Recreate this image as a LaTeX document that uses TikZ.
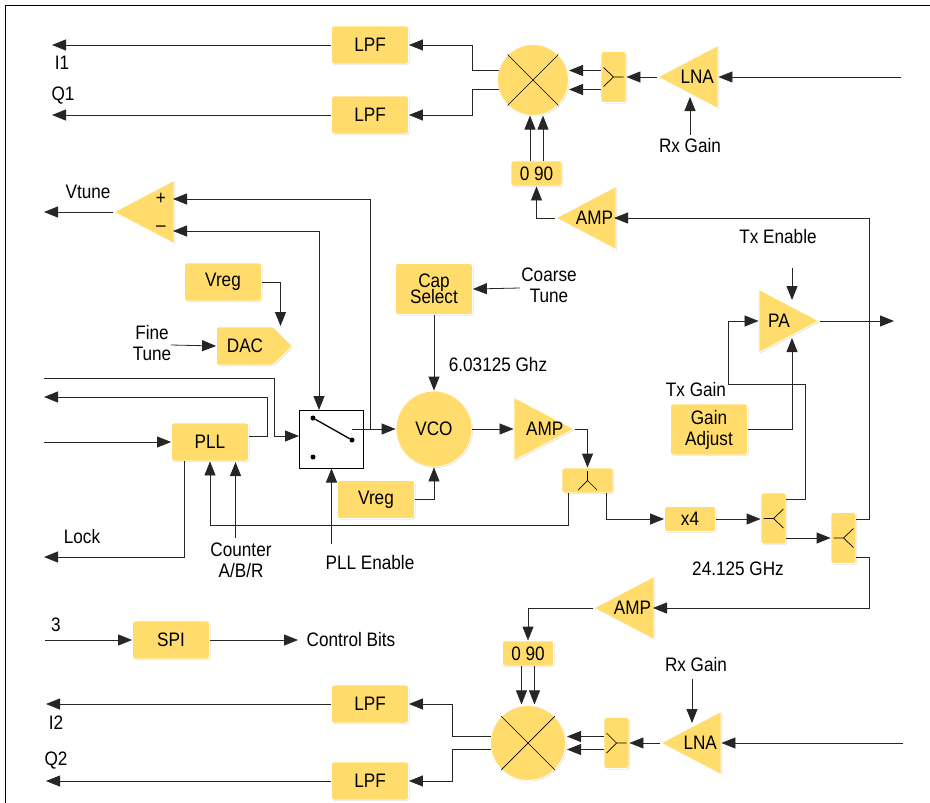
\documentclass[tikz,border=0pt]{standalone}
\usepackage{fontspec}
\setmainfont[FakeStretch=0.88]{Liberation Sans}
\usetikzlibrary{calc, arrows.meta, shapes.geometric, shapes.symbols, shadows}
\definecolor{blockyellow}{HTML}{FFDC6B}
\tikzset{
    block/.style={fill=blockyellow, draw=white, line width=0.8pt, drop shadow={opacity=0.22, shadow xshift=1pt, shadow yshift=-1pt}},
    box/.style={block, rectangle, rounded corners=2.5pt, minimum width=77pt, minimum height=38pt, inner sep=0pt, align=center},
    smallbox/.style={box, minimum width=51pt, minimum height=25pt},
    forkv/.style={box, minimum width=25pt, minimum height=51pt},
    forkh/.style={box, minimum width=51pt, minimum height=25pt},
    tribox/.style={block, isosceles triangle, isosceles triangle stretches, minimum width=63pt, minimum height=60pt, inner sep=1pt},
    ampleft/.style={tribox, shape border rotate=180, anchor=apex, xshift=-2pt},
    ampright/.style={tribox, shape border rotate=0, anchor=apex, xshift=2pt},
    disc/.style={block, circle, inner sep=0pt, minimum size=#1},
    dac/.style={block, signal, signal to=east, signal pointer angle=90, minimum width=76pt, minimum height=38pt, inner sep=0pt, rounded corners=2pt},
    wire/.style={draw=black!85, line width=0.8pt, -{Triangle[length=14pt, width=11pt]}},
    bothwire/.style={wire, {Triangle[length=14pt, width=11pt]}-{Triangle[length=14pt, width=11pt]}},
    glyph/.style={draw=black, line width=0.7pt},
    lab/.style={inner sep=0pt, align=center},
}
\begin{document}
\begin{tikzpicture}[x=1pt, y=-1pt, font=\fontsize{19.5}{21}\selectfont]
    \useasboundingbox (0,0) rectangle (930,803);
    \draw[black, line width=1pt] (5,803) -- (5,5) -- (930,5);
    \foreach \px/\py/\name in {52/45/ioa, 52/115/qoa, 901/77/rfa, 44/212/tuneout, 173/199/cmpplus, 173/231/cmpminus,
            370/429/tap, 319/410/swin, 44/378/refin, 44/397/refout, 44/442/pllin, 44/557/lockout,
            894/321/paout, 45/640/spiin, 298/640/spiout, 46/704/iob, 46/781/qob, 903/743/rfb}
        \coordinate (\name) at (\px,\py);

    \node[box] (lpfa) at (370,45) {LPF};
    \node[box] (lpfb) at (370,115) {LPF};
    \node[box] (lpfc) at (370,704) {LPF};
    \node[box] (lpfd) at (370,781) {LPF};
    \node[disc=71pt] (mixa) at (533,80) {};
    \node[disc=75pt] (mixb) at (528,743) {};
    \node[forkv] (forka) at (613.5,77) {};
    \node[forkv] (forkc) at (773.5,518.5) {};
    \node[forkv] (forkd) at (843.5,538) {};
    \node[forkv] (forke) at (616.5,743) {};
    \node[forkh] (forkb) at (587.5,480.5) {};
    \node[ampleft] (lnaa) at (659,77) {LNA};
    \node[ampleft] (lnab) at (662,743) {LNA};
    \node[ampleft] (ampa) at (557,218) {AMP};
    \node[ampleft] (ampc) at (595,608) {AMP};
    \node[ampright] (ampb) at (573,429) {\makebox[30pt][l]{\hspace*{7pt}AMP}};
    \node[ampright] (pa) at (818,321) {\hspace*{2pt}PA};
    \node[ampleft] (cmp) at (115,212) {};
    \node[smallbox] (iqa) at (536.5,173.5) {0 90};
    \node[smallbox] (iqb) at (528,653.5) {0 90};
    \node[smallbox] (xfour) at (690,519) {x4};
    \node[box] (vrega) at (223,282) {Vreg};
    \node[box] (vregb) at (376,499.5) {Vreg};
    \node[box] (pll) at (210,442) {PLL};
    \node[box] (spi) at (171,640) {SPI};
    \node[box, minimum height=51pt] (cap) at (434,289) {Cap\\[-5pt]Select};
    \node[box, minimum height=51pt] (gain) at (709,429.5) {Gain\\Adjust};
    \node[disc=76pt] (vco) at (434,429) {VCO};
    \node[dac] (dacv) at (245,346) {DAC};
    \node[draw=black, fill=white, line width=1pt, minimum width=64pt, minimum height=58pt, inner sep=0pt] (sw) at (331.5,439) {};
    \node[circle, fill=black, inner sep=0pt, minimum size=5pt] (swa) at (313,418) {};
    \node[circle, fill=black, inner sep=0pt, minimum size=5pt] (swb) at (352,440) {};
    \node[circle, fill=black, inner sep=0pt, minimum size=5pt] (swc) at (313,457) {};
    \node[lab] (plus) at (161,199) {+};
    \node[lab] (minus) at (161,229) {--};

    \node[lab] (ioalab) at (62,63) {I1};
    \node[lab] (qoalab) at (63,96) {Q1};
    \node[lab] (rxa) at (690,146) {Rx Gain};
    \node[lab] (vtune) at (88,192) {Vtune};
    \node[lab] (fine) at (152,343) {Fine\\Tune};
    \node[lab] (coarse) at (549,285) {Coarse\\Tune};
    \node[lab] (lcofreq) at (498,365) {6.03125 Ghz};
    \node[lab] (txen) at (778,237) {Tx Enable};
    \node[lab] (txgain) at (696,390) {Tx Gain};
    \node[lab] (lock) at (82,537) {Lock};
    \node[lab] (counter) at (241,560) {Counter\\A/B/R};
    \node[lab] (swen) at (370,563) {PLL Enable};
    \node[lab] (hifreq) at (738,569) {24.125 GHz};
    \node[lab] (spinum) at (56,625) {3};
    \node[lab] (ctrl) at (351,640) {Control Bits};
    \node[lab] (ioblab) at (56,723) {I2};
    \node[lab] (qoblab) at (56,761) {Q2};
    \node[lab] (rxb) at (696,665) {Rx Gain};

    \draw[glyph] (mixa.45) -- (mixa.225) (mixa.135) -- (mixa.315);
    \draw[glyph] (mixb.45) -- (mixb.225) (mixb.135) -- (mixb.315);
    \draw[glyph] ($(forka.center)+(10,0)$) -- (forka.center) -- ++(-10,-9.5) (forka.center) -- ++(-10,9.5);
    \draw[glyph] ($(forke.center)+(10,0)$) -- (forke.center) -- ++(-10,-10) (forke.center) -- ++(-10,10);
    \draw[glyph] ($(forkc.center)+(-10,0)$) -- (forkc.center) -- ++(10,-9.5) (forkc.center) -- ++(10,9.5);
    \draw[glyph] ($(forkd.center)+(-10,0)$) -- (forkd.center) -- ++(10,-9.5) (forkd.center) -- ++(10,9.5);
    \draw[glyph] ($(forkb.center)+(0,-9.5)$) -- (forkb.center) -- ++(-9.5,9.5) (forkb.center) -- ++(9.5,9.5);
    \draw[black, line width=1.3pt] (swa) -- (swb);

    \draw[wire] (lpfa.west) -- (ioa);
    \draw[wire] (lpfb.west) -- (qoa);
    \draw[wire] (lpfc.west) -- (iob);
    \draw[wire] (lpfd.west) -- (qob);
    \draw[wire] ($(mixa.center)+(-34,-9.5)$) -- ++(-27,0) |- (lpfa.east);
    \draw[wire] ($(mixa.center)+(-34,9.5)$) -- ++(-27,0) |- (lpfb.east);
    \draw[wire] ($(mixb.center)+(-37,-6.5)$) -- ++(-38.5,0) |- (lpfc.east);
    \draw[wire] ($(mixb.center)+(-37,6.5)$) -- ++(-38.5,0) |- (lpfd.east);
    \draw[wire] ($(forka.west)+(0,-6.5)$) -- ($(mixa.center)+(36,-9.5)$);
    \draw[wire] ($(forka.west)+(0,12.5)$) -- ($(mixa.center)+(36,9.5)$);
    \draw[wire] ($(forke.west)+(0,-6.5)$) -- ($(mixb.center)+(39,-6.5)$);
    \draw[wire] ($(forke.west)+(0,6.5)$) -- ($(mixb.center)+(39,6.5)$);
    \draw[wire] (lnaa.apex) -- (forka.east);
    \draw[wire] (lnab.apex) -- (forke.east);
    \draw[wire] (rfa) -- (lnaa.lower side |- rfa);
    \draw[wire] (rfb) -- (lnab.lower side |- rfb);
    \draw[wire] (690,135) -- (690,97);
    \draw[wire] (692,679) -- (692,723);
    \draw[wire] ($(iqa.north)+(-6.5,0)$) -- ++(0,-45);
    \draw[wire] ($(iqa.north)+(6.5,0)$) -- ++(0,-45);
    \draw[wire] ($(iqb.south)+(-6.5,0)$) -- ++(0,38);
    \draw[wire] ($(iqb.south)+(6.5,0)$) -- ++(0,38);
    \draw[wire] (ampa.apex) -| (iqa.south);
    \draw[wire] (ampc.apex) -| (iqb.north);
    \draw[wire] (forkd.east |- 0,519) -- (869,519) |- (614,218);
    \draw[wire] (forkd.east |- 0,557) -- (869,557) |- (653,608);

    \draw[wire] (cmp.apex) -- (tuneout);
    \draw[wire] (tap) |- (cmpplus);
    \draw[bothwire] (cmpminus) -| (swin);
    \draw[wire] (vrega.east) -| (280.5,326);
    \draw[wire] (171,345) -- (dacv.west);
    \draw[wire] (refin) -- (274,378) |- (sw.west |- 0,436);
    \draw[wire] (pll.east |- 0,436) -- (267.5,436) |- (refout);
    \draw[wire] (pllin) -- (pll.west);
    \draw[wire] (184.5,461) |- (lockout);
    \draw[wire] (568.5,493) |- (210,525) -- (pll.south);
    \draw[wire] (235.5,538) -- (235.5,462);
    \draw[wire] (331.5,544) -- (sw.south);
    \draw[wire] (swb |- vco.west) -- (vco.west);
    \draw[wire] (vregb.east) -| (vco.south);
    \draw[wire] (cap.south) -- (vco.north);
    \draw[wire] (520,288) -- (cap.east);
    \draw[wire] (vco.east) -- (ampb.lower side |- vco.east);
    \draw[wire] (ampb.apex) -| (forkb.north);
    \draw[wire] (606.5,493) |- (xfour.west);
    \draw[wire] (xfour.east) -- (forkc.west |- xfour.east);
    \draw[wire] (forkc.east |- 0,538) -- (forkd.west);
    \draw[wire] (forkc.east |- 0,499.5) -- (805.5,499.5) |- (728.5,384) |- (pa.lower side |- pa.apex);
    \draw[wire] (pa.apex) -- (paout);
    \draw[wire] (792,268) -- (792,300);
    \draw[wire] (gain.east) -| (792,338);
    \draw[wire] (spiin) -- (spi.west);
    \draw[wire] (spi.east) -- (spiout);
\end{tikzpicture}
\end{document}
